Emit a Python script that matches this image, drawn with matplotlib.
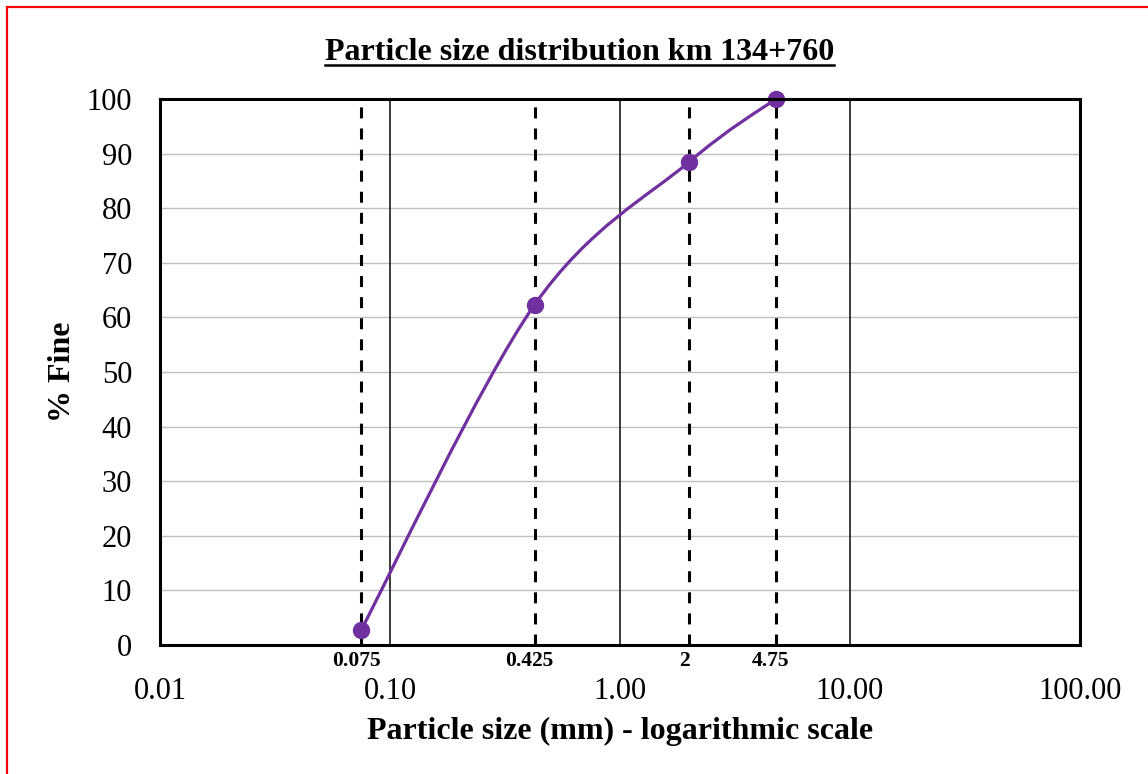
import numpy as np
import matplotlib
matplotlib.use("Agg")
import matplotlib.pyplot as plt
from matplotlib.path import Path
from matplotlib.patches import PathPatch, Rectangle
from matplotlib.lines import Line2D

plt.rcParams['font.family'] = ['Liberation Serif', 'DejaVu Serif']

# sieve sizes (mm) and percent passing
sieve_mm = [0.075, 0.425, 2, 4.75]
sieve_labels = ["0.075", "0.425", "2", "4.75"]
percent_fine = [2.8, 62.3, 88.5, 100.0]

x_ticks = [0.01, 0.1, 1, 10, 100]
x_tick_labels = ["0.01", "0.10", "1.00", "10.00", "100.00"]
y_ticks = list(range(0, 101, 10))

purple = "#7030A0"

fig = plt.figure(figsize=(11.48, 7.74), dpi=100)
ax = fig.add_axes([160 / 1148, 1 - 645 / 774, 920 / 1148, 546 / 774])
ax.set_xscale("log")
ax.set_xlim(0.01, 100)
ax.set_ylim(0, 100)

# grid: light horizontal lines, dark vertical decade lines
for y in y_ticks[1:-1]:
    ax.axhline(y, color="#bfbfbf", lw=1.0, zorder=1)
for x in x_ticks[1:-1]:
    ax.axvline(x, color="#1a1a1a", lw=1.2, zorder=1)

# dashed markers at the sieve sizes, labelled just under the axis
for x, lab in zip(sieve_mm, sieve_labels):
    ax.axvline(x, color="black", lw=2.2, ls=(0, (3.6, 3.3)), zorder=2)
    ax.annotate(lab, xy=(x, 0), xycoords=("data", "axes fraction"),
                xytext=(-3.5, -4), textcoords="offset points",
                ha="center", va="top", fontsize=15.5, fontweight="bold")

# smoothed curve (Catmull-Rom style bezier in log-x space)
lx = np.log10(sieve_mm)
py = np.array(percent_fine)
pts = np.column_stack([lx, py])
ext = np.vstack([pts[0], pts, pts[-1]])
verts = [pts[0]]
codes = [Path.MOVETO]
for i in range(1, len(ext) - 2):
    p0, p1, p2, p3 = ext[i - 1], ext[i], ext[i + 1], ext[i + 2]
    c1 = p1 + (p2 - p0) / 6
    c2 = p2 - (p3 - p1) / 6
    verts += [c1, c2, p2]
    codes += [Path.CURVE4] * 3
verts = np.array(verts)
verts[:, 0] = 10 ** verts[:, 0]
ax.add_patch(PathPatch(Path(verts, codes), fill=False, edgecolor=purple,
                       lw=2.3, zorder=3))
ax.plot(sieve_mm, percent_fine, "o", color=purple, ms=11.5, zorder=4,
        clip_on=False)

ax.set_xticks(x_ticks)
ax.set_xticklabels(x_tick_labels)
ax.minorticks_off()
ax.set_yticks(y_ticks)
ax.tick_params(axis="both", length=0, labelsize=22)
ax.tick_params(axis="x", pad=23)
ax.tick_params(axis="y", pad=20)
for s in ax.spines.values():
    s.set_linewidth(2.2)
    s.set_zorder(5)

ax.set_xlabel("Particle size (mm) - logarithmic scale", fontsize=23,
              fontweight="bold", labelpad=8)
ax.set_ylabel("% Fine", fontsize=23, fontweight="bold", labelpad=7)

title = fig.text(0.505, 1 - 53 / 774, "Particle size distribution km 134+760",
                 ha="center", va="center", fontsize=23, fontweight="bold")

# underline the title
fig.canvas.draw()
bb = title.get_window_extent().transformed(fig.transFigure.inverted())
fig.add_artist(Line2D([bb.x0, bb.x1], [bb.y0 + 0.003, bb.y0 + 0.003],
                      transform=fig.transFigure, color="black", lw=1.8))

# red frame around the chart area
fig.add_artist(Rectangle((7 / 1148, -0.1), 1.2, 1.1 - 7 / 774,
                         transform=fig.transFigure, fill=False,
                         edgecolor="red", lw=1.6))

fig.savefig("out.png", dpi=100)
